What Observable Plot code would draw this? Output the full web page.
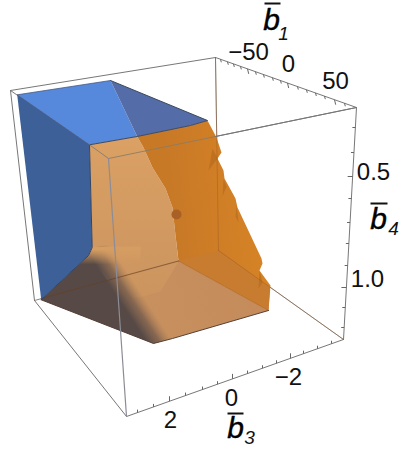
<!DOCTYPE html>
<html>
<head>
<meta charset="utf-8">
<script src="https://cdn.jsdelivr.net/npm/d3@7"></script>
<script src="https://cdn.jsdelivr.net/npm/@observablehq/plot@0.6"></script>
<style>html,body{margin:0;padding:0;background:#fff}svg{display:block}</style>
</head>
<body>
<div id="chart"></div>
<script>
// Picture-plane readings of the projected 3D scene
const boxBack = [[[215,57],[218,250]],[[218,250],[34,300]],[[218,250],[343,339]]];
const boxFront = [[[10,90],[215,57]],[[215,57],[356,107]],[[10,90],[108,158]],[[108,158],[356,107]],
                  [[10,90],[34,300]],[[34,300],[126,416]],[[126,416],[343,339]],[[356,107],[343,339]]];
const boxFrontVertical = [[108,158],[126,416]];

const blueTop = [[16.7,94.3],[110,80],[136.7,136],[89,144.3]];
const blueBack = [[110,80],[207,120],[190,125],[136.7,136]];
const blueLeft = [[16.7,94.3],[89,144.3],[91.7,247],[88,255],[40.7,299.3]];
const paleWall = [[89,144.3],[136.7,136],[143,147],[152,167],[165,188],[172,207],[175,235],[178,261],[160,291],[127,300],[88,255],[91.7,247]];
const floor = [[40.7,299.3],[153,343],[172,338],[268,310],[178,260.5]];
const shadow = [[91.7,247],[88,255],[40.7,299.3],[153,343],[172,338],[200,300],[140,240]];
const shadowFade = [[91.7,246],[140,246],[140,264],[78.5,264],[88,255]];
const orangeWall = [[136.7,136],[190,125],[207,120],[216,137],[221,152],[217,158],[223,170],[224,178],[235,198],[237,207],[261,258],[262,263],[259,270],[270,285],[268,310],[178,260.5],[175,235],[172,207],[165,188],[152,167],[143,147]];
const orangeFloorBand = [[178,260.5],[218,250],[269.5,287],[268,310]];
const spikes = [[[212,148],[217,158],[208,170]],[[223,178],[226,186],[222,196]],[[236,205],[238,222],[235,216]],[[259,270],[262,282],[258,288]]];
const blueEdge = [[110,80],[207,120],[190,125],[136.7,136],[89,144.3]];
const blueEdgeTop = [[89,144.3],[16.7,94.3],[110,80]];
const blueEdgeLow = [[89,144.3],[91.7,247],[88,255],[40.7,299.3]];
const floorEdge = [[40.7,299.3],[153,343],[172,338],[268,310]];
const floorBack = [[40.7,298],[178,260.5]];
const bottomInner = [[178,260.5],[268,310]];
const centerDot = [[176,214]];

const b1Ticks = [220,227,233,240,247,255,263,272,280,287,297,306,315,324,334,344];
const b1Major = [247,287,334];
const b4Ticks = [127,152,176,198,222,243,265,287,307,327];
const b4Major = [176,287];
const b3Ticks = [137,153,169,185,202,217,232,247,262,276,290,303,317,331];
const b3Major = [169,232,290];

const tickLabels = [
  {t:"\u221250",x:248,y:52},{t:"0",x:288,y:64},{t:"50",x:335,y:81},
  {t:"0.5",x:373,y:172},{t:"1.0",x:367,y:279},
  {t:"\u22122",x:288,y:377},{t:"0",x:231,y:398},{t:"2",x:170,y:420}
];
const axisLetters = [{t:"b",x:271,y:20},{t:"b",x:378,y:219},{t:"b",x:235,y:428}];
const axisSubs = [{t:"1",x:283,y:33},{t:"4",x:393,y:228},{t:"3",x:249,y:437}];
const axisBars = [[264,280,3],[370,387,203],[227,243,413]];

const onB1 = x => 57 + (x-215)*50/141;
const onB4 = y => 356 - (y-107)*13/232;
const onB3 = x => 416 - (x-126)*77/217;

const poly = (pts, fill, extra={}) => Plot.line(pts, {x:d=>d[0], y:d=>d[1], fill, stroke:"none", curve:"linear", ...extra});
const path = (pts, stroke, strokeWidth=1, strokeOpacity=1) => Plot.line(pts, {x:d=>d[0], y:d=>d[1], stroke, strokeWidth, strokeOpacity, curve:"linear"});

const defs = () => {
  const s = d3.create("svg:defs");
  const grad = (id, x1,y1,x2,y2, stops) => {
    const g = s.append("linearGradient").attr("id",id).attr("gradientUnits","userSpaceOnUse")
      .attr("x1",x1).attr("y1",y1).attr("x2",x2).attr("y2",y2);
    stops.forEach(([o,c,a]) => g.append("stop").attr("offset",o).attr("stop-color",c).attr("stop-opacity",a));
  };
  grad("shade",120,302,139,289.5,[[0,"rgb(86,73,70)",1],[0.5,"rgb(110,88,76)",0.72],[1,"rgb(150,115,85)",0]]);
  grad("fade",110,249,110,264,[[0,"rgb(213,157,98)",1],[1,"rgb(213,157,98)",0]]);
  grad("wallO",170,200,255,190,[[0,"rgb(200,121,38)",1],[1,"rgb(214,131,38)",1]]);
  grad("wallP",110,140,110,300,[[0,"rgb(218,160,100)",1],[1,"rgb(203,148,95)",1]]);
  grad("floorG",100,340,268,300,[[0,"rgb(201,146,95)",1],[1,"rgb(197,139,91)",1]]);
  return s.node();
};

const tickLink = (vals, major, pos, dx, dy, mdx, mdy, isY) => Plot.link(vals, {
  x1: v => isY ? pos(v) : v,
  y1: v => isY ? v : pos(v),
  x2: v => (isY ? pos(v) : v) + (major.includes(v) ? mdx : dx),
  y2: v => (isY ? v : pos(v)) + (major.includes(v) ? mdy : dy),
  stroke:"#666", strokeWidth:1
});

const chart = Plot.plot({
  width:411, height:449, margin:0,
  x:{domain:[0,411], range:[0,411], axis:null},
  y:{domain:[0,449], range:[0,449], axis:null},
  style:{background:"#fff"},
  marks:[
    defs,
    ...boxBack.map(e => path(e,"#888")),
    ...boxFront.map(e => path(e,"#777")),
    tickLink(b1Ticks,b1Major,onB1,0.8,3,1.2,5,false),
    tickLink(b4Ticks,b4Major,onB4,-3,0,-5,0,true),
    tickLink(b3Ticks,b3Major,onB3,0,-3,0,-5,false),
    poly(blueLeft,"rgb(61,96,152)"),
    poly(blueTop,"rgb(86,136,220)"),
    poly(blueBack,"rgb(84,109,168)"),
    poly(floor,"url(#floorG)"),
    poly(paleWall,"url(#wallP)"),
    poly(orangeWall,"url(#wallO)"),
    poly(orangeFloorBand,"rgb(200,124,48)"),
    ...spikes.map(s => poly(s,"rgb(186,110,30)",{fillOpacity:0.8})),
    poly(shadow,"url(#shade)"),
    poly(shadowFade,"url(#fade)"),
    path(bottomInner,"rgb(170,100,40)",1,0.6),
    path(boxBack[0],"rgb(150,85,30)",1,0.4),
    path(boxBack[2],"rgb(150,85,30)",1,0.4),
    path(floorBack,"rgb(105,65,35)",1.2,0.65),
    path(floorEdge,"rgb(85,65,55)",1),
    path(blueEdge,"rgb(60,72,95)",1),
    path(blueEdgeTop,"rgb(70,90,130)",0.8),
    path(blueEdgeLow,"rgb(50,68,100)",1),
    path([[89,144.3],[108,158]],"#8a8078",1),
    path([[108,158],[215,136]],"#8a7a68",1,0.85),
    path([[215,136],[356,107]],"#777",1),
    path(boxFrontVertical,"#8c8c96",1.2),
    Plot.dot(centerDot,{x:d=>d[0],y:d=>d[1],r:5,fill:"rgb(168,96,36)"}),
    Plot.text(tickLabels,{x:"x",y:"y",text:"t",fontFamily:"Liberation Sans",fontSize:24,fill:"#111",textAnchor:"middle",lineAnchor:"middle"}),
    Plot.text(axisLetters,{x:"x",y:"y",text:"t",fontFamily:"Liberation Sans",fontStyle:"italic",fontSize:30,stroke:"#000",strokeWidth:0.4,fill:"#000",textAnchor:"middle",lineAnchor:"middle"}),
    Plot.text(axisSubs,{x:"x",y:"y",text:"t",fontFamily:"Liberation Sans",fontStyle:"italic",fontSize:19,fill:"#111",textAnchor:"middle",lineAnchor:"middle"}),
    Plot.link(axisBars,{x1:d=>d[0],x2:d=>d[1],y1:d=>d[2],y2:d=>d[2],stroke:"#111",strokeWidth:2})
  ]
});
document.getElementById("chart").append(chart);
</script>
</body>
</html>
